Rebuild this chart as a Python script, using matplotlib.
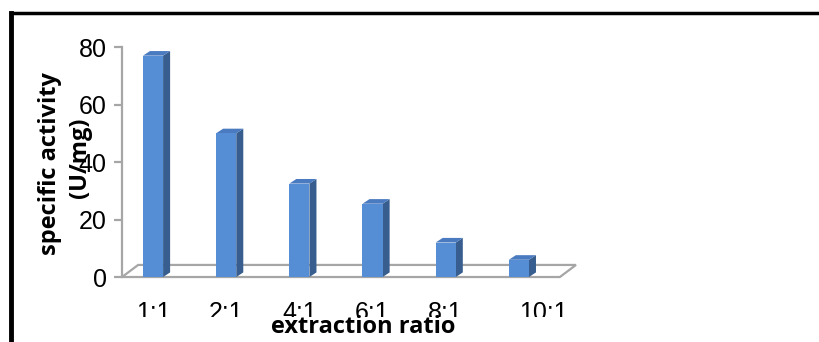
import numpy as np
import matplotlib
matplotlib.use("Agg")
import matplotlib.pyplot as plt
from matplotlib.patches import Polygon
from matplotlib.lines import Line2D
from matplotlib.transforms import Bbox

# specific activity for each extraction ratio
ratios = ["1:1", "2:1", "4:1", "6:1", "8:1", "10:1"]
activity = [77, 50, 32.5, 25.5, 12, 6]

front = "#558ED5"
side = "#375E8E"
top = "#4A7AC0"
axis_grey = "#A6A6A6"

fig = plt.figure(figsize=(8.19, 3.42), dpi=100)
ax = fig.add_axes([0.149, 0.19, 0.559, 0.6725])

x = np.arange(len(ratios))
w = 0.275
dx, dy = 0.096, 1.6          # depth offset of the bars
fdx, fdy = 0.22, 4.2         # depth of the floor

ax.set_xlim(-0.4235, 5.833)
ax.set_ylim(0, 80)

# floor
floor_right = 5.56
ax.add_patch(Polygon([(-0.4235, 0), (floor_right, 0), (floor_right + fdx, fdy),
                      (-0.4235 + fdx, fdy)], closed=True, facecolor="white",
                     edgecolor=axis_grey, linewidth=1.6, zorder=1, clip_on=False))

# 3d-looking bars
ax.bar(x, activity, width=w, color=front, zorder=3, linewidth=0)
for xi, v in zip(x, activity):
    r = xi + w / 2
    l = xi - w / 2
    ax.add_patch(Polygon([(r, 0), (r + dx, dy), (r + dx, v + dy), (r, v)],
                         closed=True, facecolor=side, edgecolor="none", zorder=2))
    ax.add_patch(Polygon([(l, v), (r, v), (r + dx, v + dy), (l + dx, v + dy)],
                         closed=True, facecolor=top, edgecolor="none", zorder=2))

for s in ["top", "right", "bottom"]:
    ax.spines[s].set_visible(False)
ax.spines["left"].set_color(axis_grey)
ax.spines["left"].set_linewidth(1.6)

ax.set_yticks([0, 20, 40, 60, 80])
ax.tick_params(axis="y", length=6, width=1.6, color=axis_grey, labelsize=18, pad=5)
ax.set_xticks(x)
ax.set_xticklabels(ratios)
ax.tick_params(axis="x", length=0, labelsize=18, pad=17)
for lab in ax.get_yticklabels() + ax.get_xticklabels():
    lab.set_fontfamily("Liberation Sans")
ax.get_xticklabels()[-1].set_ha("left")

# tick labels are cut off at the bottom of the chart area
clip = Bbox.from_extents(0, 25, 819, 342)
for lab in ax.get_xticklabels():
    lab.set_clip_box(clip)
    lab.set_clip_on(True)

fig.text(0.061, 0.523, "specific activity", rotation=90, ha="center", va="center",
         fontsize=17, fontweight="bold", fontfamily="Open Sans")
fig.text(0.098, 0.538, "(U/mg)", rotation=90, ha="center", va="center",
         fontsize=17, fontweight="bold", fontfamily="Open Sans")
fig.text(0.443, 0.044, "extraction ratio", ha="center", va="center",
         fontsize=17, fontweight="bold", fontfamily="Open Sans")

# black frame along top and left edge
fig.add_artist(Line2D([0.0140, 1.0], [0.962, 0.962], color="black", linewidth=2.5))
fig.add_artist(Line2D([0.0140, 0.0140], [0.0, 0.962], color="black", linewidth=3.5))

fig.savefig("out.png", dpi=100)
